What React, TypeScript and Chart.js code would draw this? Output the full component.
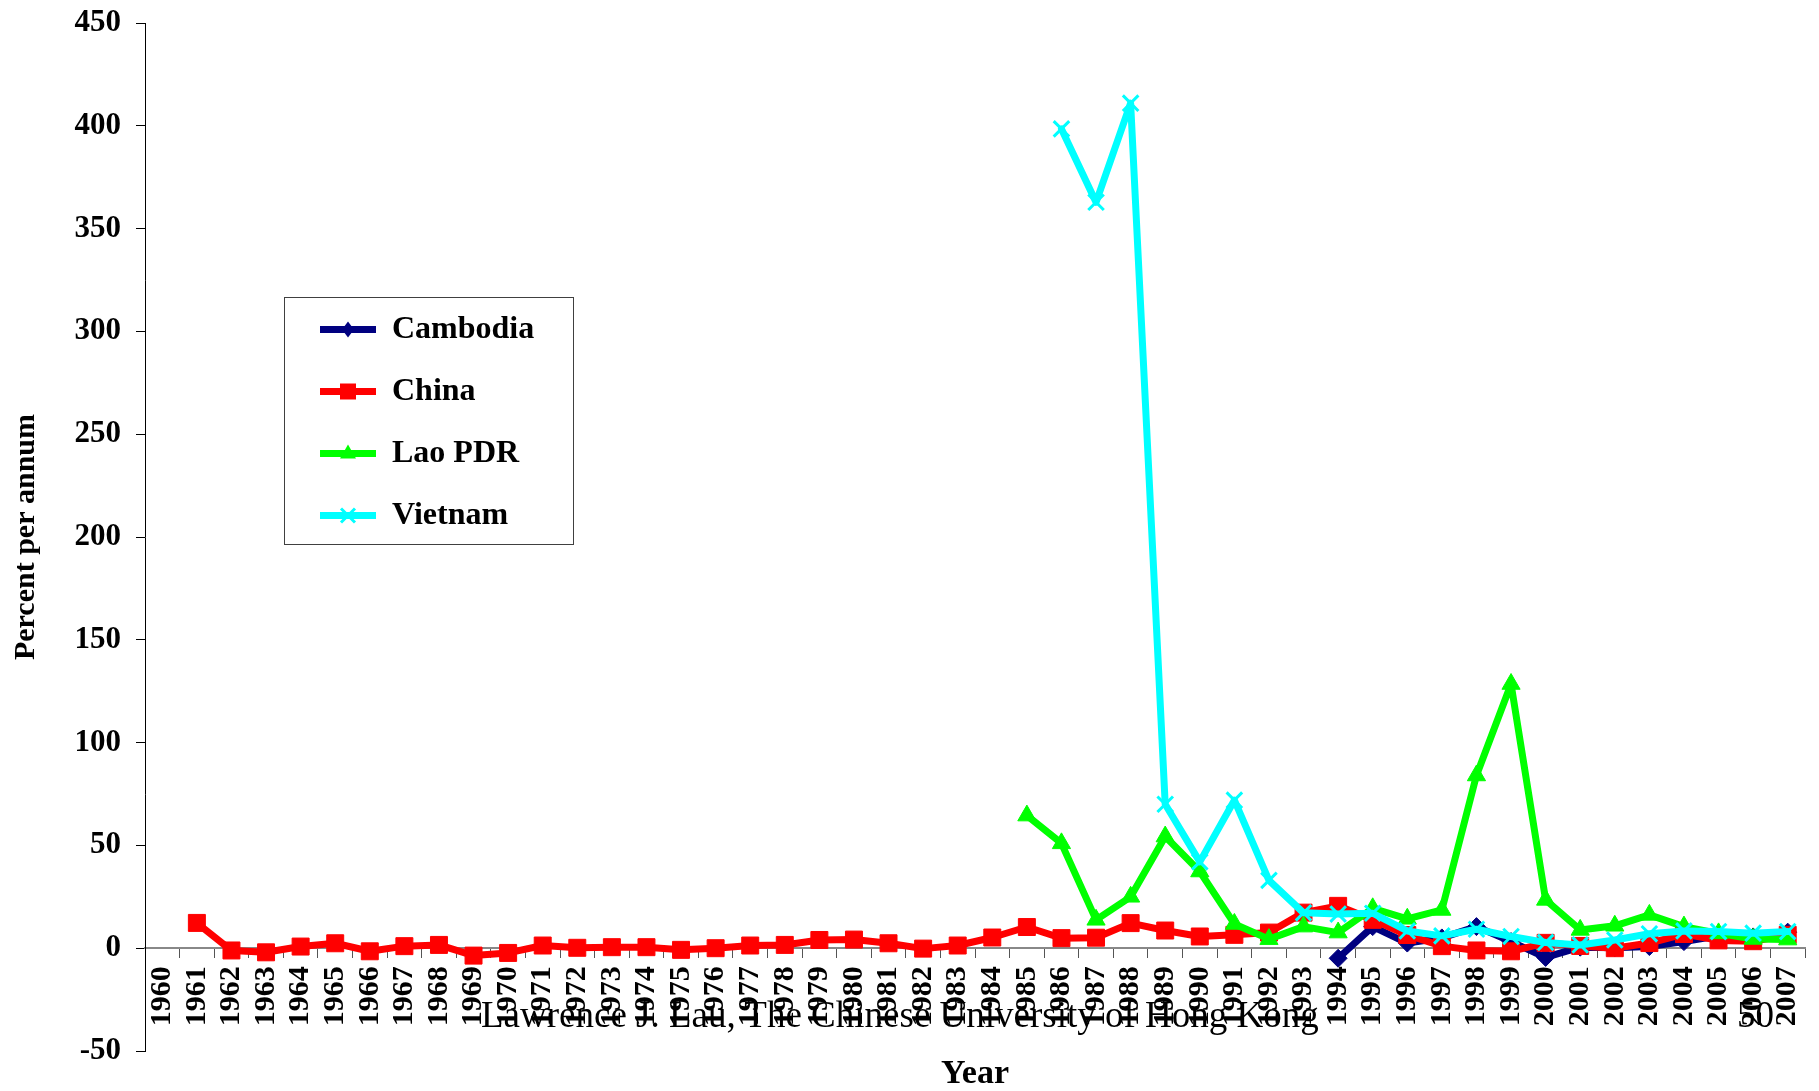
import React, { useEffect, useRef } from "react";
import { Chart, registerables } from "chart.js";

Chart.register(...registerables);

const FONT = "'Liberation Serif', 'Times New Roman', Times, serif";

const years = [
  "1960", "1961", "1962", "1963", "1964", "1965", "1966", "1967", "1968", "1969",
  "1970", "1971", "1972", "1973", "1974", "1975", "1976", "1977", "1978", "1979",
  "1980", "1981", "1982", "1983", "1984", "1985", "1986", "1987", "1988", "1989",
  "1990", "1991", "1992", "1993", "1994", "1995", "1996", "1997", "1998", "1999",
  "2000", "2001", "2002", "2003", "2004", "2005", "2006", "2007",
];

// Cambodia, 1994-2007
const cambodiaStart = 1994;
const cambodia = [-4.9, 10.5, 2.5, 5.0, 10.5, 3.2, -4.5, 0.5, 0.2, 0.8, 3.2, 6.0, 5.5, 7.8];

// China, 1961-2007
const chinaStart = 1961;
const china = [
  12.3, -1.1, -2.0, 0.8, 2.4, -1.5, 1.0, 1.6, -3.6, -2.3,
  1.3, 0.2, 0.5, 0.5, -0.8, 0.0, 1.3, 1.6, 4.0, 4.2,
  2.4, -0.2, 1.3, 5.2, 10.3, 4.9, 5.1, 12.2, 8.6, 5.7,
  6.5, 7.6, 17.3, 20.6, 13.8, 6.4, 1.0, -1.1, -1.5, 2.6,
  1.1, 0.0, 2.5, 6.9, 3.8, 3.4, 6.5,
];

// Lao PDR, 1985-2007
const laoStart = 1985;
const lao = [
  64.5, 51.0, 13.8, 25.0, 54.3, 37.3, 11.8, 4.4, 10.5, 7.6,
  19.4, 14.3, 18.6, 84.0, 128.5, 23.5, 8.9, 10.9, 16.2, 10.5,
  7.2, 4.5, 4.2,
];

// Vietnam, 1986-2007
const vietnamStart = 1986;
const vietnam = [
  398.5, 362.8, 411.0, 70.0, 42.0, 72.0, 33.0, 17.2, 16.6, 17.0,
  8.4, 6.0, 9.2, 5.7, 2.8, 1.6, 4.0, 7.0, 8.4, 8.1, 7.3, 8.1,
];

const yTicksMin = -50;
const yTicksMax = 450;
const yTickStep = 50;

function align(values: number[], start: number): (number | null)[] {
  return years.map((y) => {
    const idx = Number(y) - start;
    return idx >= 0 && idx < values.length ? values[idx] : null;
  });
}

const LEG = { left: 290, top: 283.5, pad: 30, boxW: 56, font: 32 };
const legendStyles = [
  { style: "rectRot", color: "#000080" },
  { style: "rect", color: "#FF0000" },
  { style: "triangle", color: "#00FF00" },
  { style: "crossRot", color: "#00FFFF" },
];

function drawMarker(ctx: CanvasRenderingContext2D, style: string, x: number, y: number, color: string) {
  ctx.save();
  ctx.fillStyle = color;
  ctx.strokeStyle = color;
  ctx.beginPath();
  if (style === "rect") {
    ctx.rect(x - 8, y - 8, 16, 16);
    ctx.fill();
  } else if (style === "triangle") {
    ctx.moveTo(x, y - 9);
    ctx.lineTo(x + 8, y + 5);
    ctx.lineTo(x - 8, y + 5);
    ctx.closePath();
    ctx.fill();
  } else if (style === "rectRot") {
    ctx.moveTo(x, y - 8);
    ctx.lineTo(x + 6, y);
    ctx.lineTo(x, y + 8);
    ctx.lineTo(x - 6, y);
    ctx.closePath();
    ctx.fill();
  } else {
    ctx.lineWidth = 3;
    ctx.moveTo(x - 7, y - 7);
    ctx.lineTo(x + 7, y + 7);
    ctx.moveTo(x + 7, y - 7);
    ctx.lineTo(x - 7, y + 7);
    ctx.stroke();
  }
  ctx.restore();
}

const legendPlacer = {
  id: "legendPlacer",
  afterLayout(chart: any) {
    const lg = chart.legend;
    if (!lg) return;
    lg.left = LEG.left;
    lg.top = LEG.top;
    lg.width = 420;
    lg.height = 420;
    lg.right = LEG.left + 420;
    lg.bottom = LEG.top + 420;
  },
  afterDraw(chart: any) {
    const ctx: CanvasRenderingContext2D = chart.ctx;
    ctx.save();
    ctx.strokeStyle = "#404040";
    ctx.lineWidth = 1;
    ctx.strokeRect(284.5, 297.5, 289, 247);
    ctx.restore();
    const lineH = LEG.font + LEG.pad;
    legendStyles.forEach((m, i) => {
      const cx = LEG.left + LEG.pad + LEG.boxW / 2;
      const cy = LEG.top + LEG.pad + LEG.font / 2 + i * lineH;
      drawMarker(ctx, m.style, cx, cy, m.color);
    });
  },
};

export default function App() {
  const ref = useRef<HTMLCanvasElement>(null);

  useEffect(() => {
    if (!ref.current) return;
    const base = {
      borderWidth: 7,
      tension: 0,
      borderJoinStyle: "round" as const,
      borderCapStyle: "round" as const,
      pointBorderWidth: 1,
    };
    const chart = new Chart(ref.current, {
      type: "line",
      data: {
        labels: years,
        datasets: [
          {
            ...base,
            label: "Cambodia",
            data: align(cambodia, cambodiaStart),
            borderColor: "#000080",
            backgroundColor: "#000080",
            pointBackgroundColor: "#000080",
            pointBorderColor: "#000080",
            pointStyle: "rectRot",
            pointRadius: 9,
            order: 4,
          },
          {
            ...base,
            label: "China",
            data: align(china, chinaStart),
            borderColor: "#FF0000",
            backgroundColor: "#FF0000",
            pointBackgroundColor: "#FF0000",
            pointBorderColor: "#FF0000",
            pointStyle: "rect",
            pointRadius: 12,
            order: 3,
          },
          {
            ...base,
            label: "Lao PDR",
            data: align(lao, laoStart),
            borderColor: "#00FF00",
            backgroundColor: "#00FF00",
            pointBackgroundColor: "#00FF00",
            pointBorderColor: "#00FF00",
            pointStyle: "triangle",
            pointRadius: 10.5,
            order: 2,
          },
          {
            ...base,
            label: "Vietnam",
            data: align(vietnam, vietnamStart),
            borderColor: "#00FFFF",
            backgroundColor: "#00FFFF",
            pointBackgroundColor: "#00FFFF",
            pointBorderColor: "#00FFFF",
            pointStyle: "crossRot",
            pointRadius: 11,
            pointBorderWidth: 3,
            order: 1,
          },
        ],
      },
      options: {
        responsive: false,
        animation: false,
        devicePixelRatio: 1,
        layout: { padding: { top: 23, right: 1, bottom: 0, left: 0 } },
        scales: {
          x: {
            type: "category",
            position: { y: 0 } as any,
            offset: true,
            grid: {
              offset: true,
              drawOnChartArea: false,
              drawTicks: true,
              tickLength: 9,
              color: "#555555",
            },
            border: { display: true, color: "#888888", width: 2 },
            ticks: {
              autoSkip: false,
              maxRotation: 90,
              minRotation: 90,
              padding: 9,
              color: "#000000",
              font: { family: FONT, size: 30, weight: "bold" },
            },
            afterFit: (s: any) => {
              s.paddingLeft = 0;
              s.paddingRight = 0;
            },
          },
          y: {
            type: "linear",
            position: "left",
            min: yTicksMin,
            max: yTicksMax,
            grid: {
              drawOnChartArea: false,
              drawTicks: true,
              tickLength: 9,
              color: "#000000",
            },
            border: { display: true, color: "#000000", width: 1 },
            ticks: {
              stepSize: yTickStep,
              padding: 15,
              color: "#000000",
              font: { family: FONT, size: 31, weight: "bold" },
            },
            title: {
              display: true,
              text: "Percent per annum",
              color: "#000000",
              font: { family: FONT, size: 30, weight: "bold" },
              padding: { top: 8, bottom: 0 },
            },
            afterFit: (s: any) => {
              s.width = 145;
              s.paddingTop = 0;
              s.paddingBottom = 0;
            },
          },
        },
        plugins: {
          legend: {
            display: true,
            position: "chartArea" as any,
            align: "start",
            labels: {
              boxWidth: LEG.boxW,
              boxHeight: 7,
              padding: LEG.pad,
              color: "#000000",
              font: { family: FONT, size: LEG.font, weight: "bold" },
              sort: (a: any, b: any) => a.datasetIndex - b.datasetIndex,
              generateLabels: (c: any) =>
                (Chart.defaults.plugins.legend.labels.generateLabels as any)(c).map((l: any) => ({
                  ...l,
                  lineWidth: 0,
                  fillStyle: l.strokeStyle,
                })),
            },
          },
          title: {
            display: true,
            text: "Year",
            position: "bottom",
            fullSize: false,
            color: "#000000",
            font: { family: FONT, size: 34, weight: "bold", lineHeight: 1 },
            padding: { top: 6, bottom: 0 },
          },
          tooltip: { enabled: false },
        },
      },
      plugins: [legendPlacer],
    });
    return () => chart.destroy();
  }, []);

  const footer: React.CSSProperties = {
    position: "absolute",
    top: 996,
    font: `37px ${FONT}`,
    lineHeight: 1,
    color: "#000",
    whiteSpace: "nowrap",
  };

  return (
    <div style={{ position: "fixed", left: 0, top: 0, width: 1819, height: 1091, background: "#fff" }}>
      <canvas ref={ref} width={1819} height={1091} style={{ display: "block", width: 1819, height: 1091 }} />
      <div style={{ ...footer, left: 481 }}>Lawrence J. Lau, The Chinese University of Hong Kong</div>
      <div style={{ ...footer, left: 1737 }}>50</div>
    </div>
  );
}
